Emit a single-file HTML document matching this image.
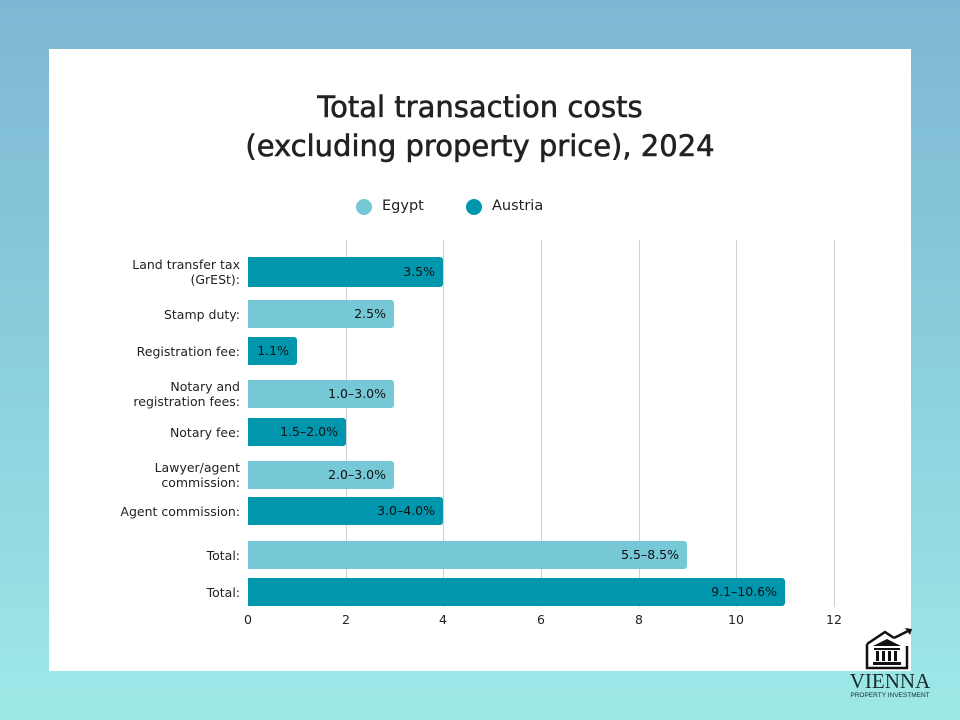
<!DOCTYPE html>
<html><head><style>
body{margin:0;width:960px;height:720px;overflow:hidden;background:linear-gradient(180deg,#7db7d3 0%,#8fd3df 60%,#9de9e7 100%);font-family:"DejaVu Sans","Liberation Sans",sans-serif;position:relative}
.card{position:absolute;left:49px;top:49px;width:862px;height:622px;background:#fff}
.t{position:absolute;left:0;width:960px;text-align:center;font-size:29px;color:#222;line-height:38px;-webkit-text-stroke:0.6px #222}
.g{position:absolute;top:240px;height:367px;width:1px;background:#d0d0d0}
.b{position:absolute;left:248px;border-radius:0 3px 3px 0;font-size:12.5px;color:#111;text-align:right;box-sizing:border-box;padding-right:8px}
.d{background:#0097ae}.l{background:#76c8d6}
.lab{position:absolute;right:720px;text-align:right;font-size:12.5px;color:#222;line-height:15px}
.x{position:absolute;top:612px;font-size:12.5px;color:#222;width:30px;margin-left:-15px;text-align:center}
</style></head><body>
<div class="card"></div>
<div class="t" style="top:88px">Total transaction costs</div>
<div class="t" style="top:127px">(excluding property price), 2024</div>
<div style="position:absolute;left:356px;top:199px;width:16px;height:16px;border-radius:50%;background:#76c8d6"></div>
<div style="position:absolute;left:382px;top:198px;font-size:14.5px;color:#222">Egypt</div>
<div style="position:absolute;left:466px;top:199px;width:16px;height:16px;border-radius:50%;background:#0097ae"></div>
<div style="position:absolute;left:492px;top:198px;font-size:14.5px;color:#222">Austria</div>
<div class="g" style="left:346px"></div><div class="g" style="left:443px"></div><div class="g" style="left:541px"></div><div class="g" style="left:639px"></div><div class="g" style="left:736px"></div><div class="g" style="left:834px"></div>
<div class="b d" style="top:257px;width:195px;height:30px;line-height:30px">3.5%</div>
<div class="b l" style="top:300px;width:146px;height:28px;line-height:28px">2.5%</div>
<div class="b d" style="top:337px;width:49px;height:28px;line-height:28px">1.1%</div>
<div class="b l" style="top:380px;width:146px;height:28px;line-height:28px">1.0–3.0%</div>
<div class="b d" style="top:418px;width:98px;height:28px;line-height:28px">1.5–2.0%</div>
<div class="b l" style="top:461px;width:146px;height:28px;line-height:28px">2.0–3.0%</div>
<div class="b d" style="top:497px;width:195px;height:28px;line-height:28px">3.0–4.0%</div>
<div class="b l" style="top:541px;width:439px;height:28px;line-height:28px">5.5–8.5%</div>
<div class="b d" style="top:578px;width:537px;height:28px;line-height:28px">9.1–10.6%</div>
<div class="lab" style="top:257px">Land transfer tax<br>(GrESt):</div>
<div class="lab" style="top:307px">Stamp duty:</div>
<div class="lab" style="top:344px">Registration fee:</div>
<div class="lab" style="top:379px">Notary and<br>registration fees:</div>
<div class="lab" style="top:425px">Notary fee:</div>
<div class="lab" style="top:460px">Lawyer/agent<br>commission:</div>
<div class="lab" style="top:504px">Agent commission:</div>
<div class="lab" style="top:548px">Total:</div>
<div class="lab" style="top:585px">Total:</div>
<div class="x" style="left:248px">0</div><div class="x" style="left:346px">2</div><div class="x" style="left:443px">4</div><div class="x" style="left:541px">6</div><div class="x" style="left:639px">8</div><div class="x" style="left:736px">10</div><div class="x" style="left:834px">12</div>
<svg style="position:absolute;left:864px;top:628px" width="50" height="42" viewBox="0 0 50 42"><path d="M3 16 L21 4 L30 10 M3 16 V40 H43 V18" fill="none" stroke="#111" stroke-width="2.5"/><path d="M30 10 L46 2" stroke="#111" stroke-width="2.5"/><path d="M41 0 L48 1 L46 7 Z" fill="#111"/><path d="M9 18 H37 L23 11 Z" fill="#111"/><rect x="10" y="20" width="26" height="2" fill="#111"/><rect x="12" y="23" width="3" height="10" fill="#111"/><rect x="18" y="23" width="3" height="10" fill="#111"/><rect x="24" y="23" width="3" height="10" fill="#111"/><rect x="30" y="23" width="3" height="10" fill="#111"/><rect x="9" y="34" width="28" height="3" fill="#111"/></svg>
<div style="position:absolute;left:840px;top:670px;width:100px;text-align:center;font-family:'Liberation Serif',serif;font-size:21px;color:#1a2a2a;line-height:22px">VIENNA</div>
<div style="position:absolute;left:840px;top:692px;width:100px;text-align:center;font-family:'Liberation Sans',sans-serif;font-size:6.5px;color:#1a2a2a">PROPERTY INVESTMENT</div>
</body></html>
